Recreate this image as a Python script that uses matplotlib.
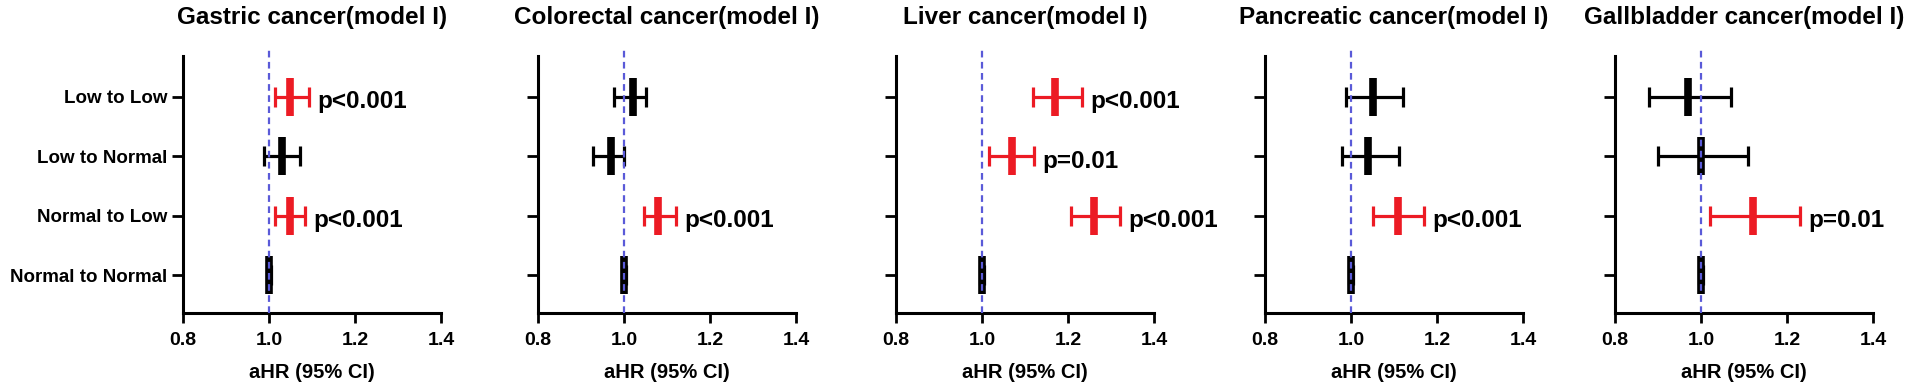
import numpy as np
import matplotlib
matplotlib.use('Agg')
import matplotlib.pyplot as plt

plt.rcParams['font.family'] = ['Liberation Sans', 'DejaVu Sans']
plt.rcParams['font.weight'] = 'bold'

# Dữ liệu
groups = ['Low to Low', 'Low to Normal', 'Normal to Low', 'Normal to Normal']
titles = ['Gastric cancer(model I)', 'Colorectal cancer(model I)', 'Liver cancer(model I)',
          'Pancreatic cancer(model I)', 'Gallbladder cancer(model I)']

gastric_hr = [1.05, 1.03, 1.05, 1.0]
gastric_lo = [1.015, 0.988, 1.015, 0.995]
gastric_hi = [1.094, 1.073, 1.083, 1.005]
gastric_p = ['p<0.001', None, 'p<0.001', None]

colorectal_hr = [1.02, 0.97, 1.08, 1.0]
colorectal_lo = [0.977, 0.928, 1.046, 0.995]
colorectal_hi = [1.052, 1.0, 1.122, 1.005]
colorectal_p = [None, None, 'p<0.001', None]

liver_hr = [1.17, 1.07, 1.26, 1.0]
liver_lo = [1.118, 1.017, 1.208, 0.995]
liver_hi = [1.232, 1.122, 1.321, 1.005]
liver_p = ['p<0.001', 'p=0.01', 'p<0.001', None]

pancreatic_hr = [1.05, 1.04, 1.11, 1.0]
pancreatic_lo = [0.988, 0.978, 1.051, 0.995]
pancreatic_hi = [1.120, 1.111, 1.169, 1.005]
pancreatic_p = [None, None, 'p<0.001', None]

gallbladder_hr = [0.97, 1.0, 1.12, 1.0]
gallbladder_lo = [0.879, 0.901, 1.020, 0.995]
gallbladder_hi = [1.070, 1.110, 1.231, 1.005]
gallbladder_p = [None, None, 'p=0.01', None]

xticks = [0.8, 1.0, 1.2, 1.4]
xtick_labels = ['0.8', '1.0', '1.2', '1.4']

panels = [
    (gastric_hr, gastric_lo, gastric_hi, gastric_p),
    (colorectal_hr, colorectal_lo, colorectal_hi, colorectal_p),
    (liver_hr, liver_lo, liver_hi, liver_p),
    (pancreatic_hr, pancreatic_lo, pancreatic_hi, pancreatic_p),
    (gallbladder_hr, gallbladder_lo, gallbladder_hi, gallbladder_p),
]

RED = '#ec1b24'
BLUE = '#5a5ad8'

W, H = 1920, 390
fig = plt.figure(figsize=(W / 100, H / 100), dpi=100)

left_px = [183, 538, 896, 1265, 1615]
ax_w = 258 / W
ax_b = (H - 313) / H
ax_h = (313 - 56) / H

ypos = np.array([4, 3, 2, 1])

for i, (hr, lo, hi, pv) in enumerate(panels):
    ax = fig.add_axes([left_px[i] / W, ax_b, ax_w, ax_h])
    hr = np.array(hr)
    lo = np.array(lo)
    hi = np.array(hi)
    for k in range(len(groups)):
        col = RED if pv[k] is not None else 'black'
        ax.errorbar(hr[k], ypos[k], xerr=[[hr[k] - lo[k]], [hi[k] - hr[k]]],
                    fmt='none', ecolor=col, elinewidth=2.3, capsize=7, capthick=2.3,
                    zorder=3)
        ax.plot(hr[k], ypos[k], marker='|', markersize=28, markeredgewidth=5.5,
                color=col, linestyle='none', zorder=4)
        if pv[k] is not None:
            ax.annotate(pv[k], xy=(hi[k], ypos[k]), xytext=(6, -3.5),
                        textcoords='offset points', ha='left', va='center',
                        fontsize=17.5, fontweight='bold', color='black')
    ax.axvline(1.0, ymin=0, ymax=1.025, color=BLUE, linestyle=(0, (3, 2)),
               linewidth=1.6, zorder=5, clip_on=False)

    ax.set_xlim(0.8, 1.4)
    ax.set_ylim(0.36, 4.69)
    ax.set_xticks(xticks)
    ax.set_xticklabels(xtick_labels, fontsize=14, fontweight='bold')
    ax.set_yticks(ypos)
    if i == 0:
        ax.set_yticklabels(groups, fontsize=13.5, fontweight='bold')
    else:
        ax.set_yticklabels([])
    ax.tick_params(axis='x', width=2.0, length=7, pad=7)
    ax.tick_params(axis='y', width=2.0, length=8, pad=3.5)
    ax.spines['top'].set_visible(False)
    ax.spines['right'].set_visible(False)
    ax.spines['left'].set_linewidth(2.2)
    ax.spines['bottom'].set_linewidth(2.2)
    ax.set_xlabel('aHR (95% CI)', fontsize=14.5, fontweight='bold', labelpad=10)
    ax.set_title(titles[i], fontsize=17.5, fontweight='bold', pad=23)

fig.savefig('out.png', dpi=100)
